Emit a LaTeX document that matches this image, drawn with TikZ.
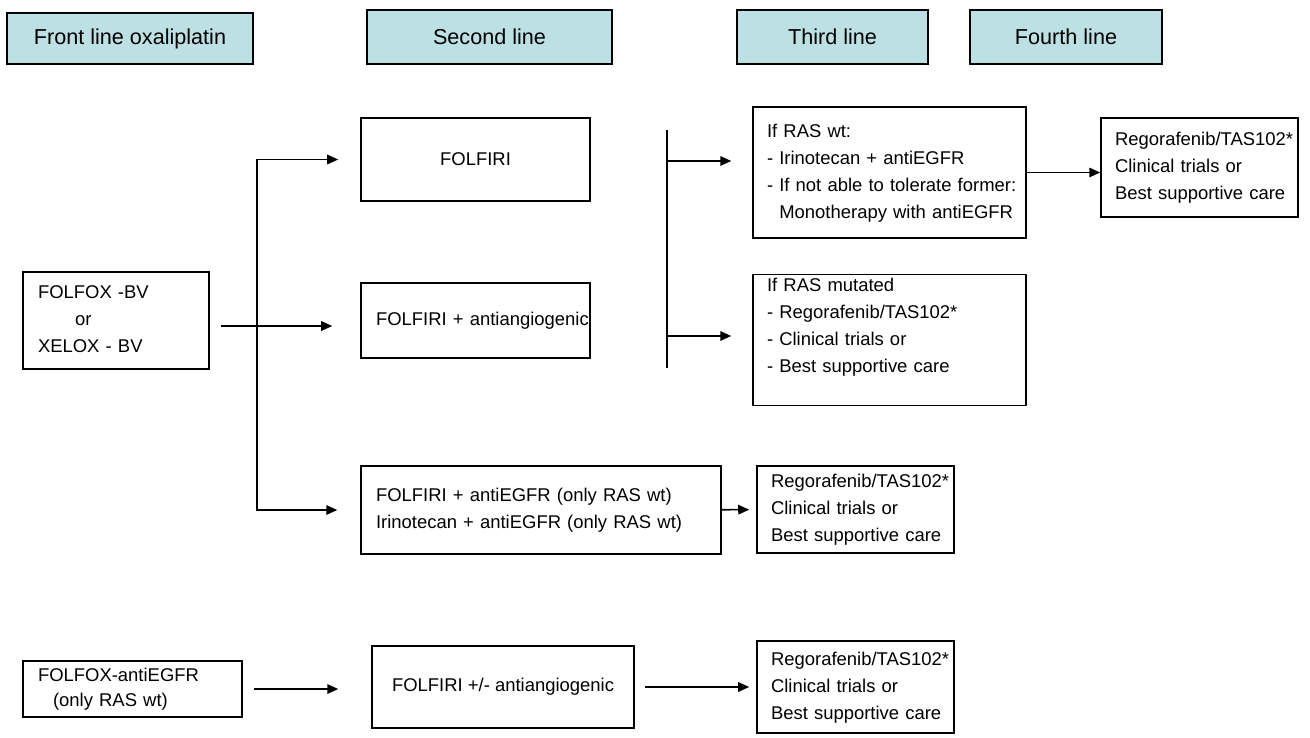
\documentclass[tikz,border=0pt]{standalone}
\usepackage{fontspec}
\setmainfont{Liberation Sans}
\usepackage{tikz}
\usetikzlibrary{
	positioning,
	arrows.meta
}

\definecolor{headblue}{RGB}{188,224,228}
% lines of a box, set flush left and never broken
\newcommand{\boxlines}[1]{\begin{tabular}[t]{@{}l@{}}#1\end{tabular}}

\tikzset{
	box/.style={draw, line width=0.9pt, inner sep=0pt,
		font=\fontsize{10.5}{15.4}\selectfont},
	headbox/.style={box, fill=headblue, minimum height=1.08cm,
		font=\fontsize{12.3}{14}\selectfont},
	leftbox/.style={box, align=left, inner xsep=0.28cm},
	arr/.style={-{Triangle[length=2.2mm,width=1.9mm]}, line width=0.9pt}
}

\begin{document}
\begin{tikzpicture}[x=0.02cm, y=-0.02cm]
	\useasboundingbox (0,0) rectangle (1310,737);

	% column headers
	\node[headbox, minimum width=4.92cm, minimum height=1.02cm] (front) at (130,38.5) {Front line oxaliplatin};
	\node[headbox, minimum width=4.90cm] (second) at (489.5,37) {Second line};
	\node[headbox, minimum width=3.82cm] (third) at (832.5,37) {Third line};
	\node[headbox, minimum width=3.84cm] (fourth) at (1066,37) {Fourth line};

	% first line
	\node[leftbox, inner xsep=0.3cm, text width=3.12cm, minimum height=1.94cm] (folfox) at (116,320.5)
		{\boxlines{FOLFOX -BV\\\hspace*{0.74cm}or\\XELOX - BV}};
	\node[leftbox, inner xsep=0.3cm, text width=3.78cm, minimum height=1.12cm,
		font=\fontsize{10.5}{14.2}\selectfont] (fxegfr) at (132.5,689)
		{\boxlines{FOLFOX-antiEGFR\\\hspace*{0.3cm}(only RAS wt)}};

	% second line
	\node[box, minimum width=4.58cm, minimum height=1.66cm] (folfiri) at (475.5,159.5) {FOLFIRI};
	\node[leftbox, inner xsep=0.3cm, text width=3.98cm, minimum height=1.5cm] (folfiriang) at (475.5,320.5)
		{\boxlines{FOLFIRI + antiangiogenic}};
	\node[leftbox, inner xsep=0.3cm, text width=6.6cm, minimum height=1.76cm] (antiegfr) at (541,510)
		{\boxlines{FOLFIRI + antiEGFR (only RAS wt)\\Irinotecan + antiEGFR (only RAS wt)}};
	\node[box, minimum width=5.24cm, minimum height=1.64cm] (fiang2) at (503,687) {FOLFIRI +/- antiangiogenic};

	% third line
	\node[leftbox, text width=4.9cm, minimum height=2.62cm] (raswt) at (889.5,172.5)
		{\boxlines{If RAS wt:\\- Irinotecan + antiEGFR\\- If not able to tolerate former:\\\phantom{- }Monotherapy with antiEGFR}};
	\node[leftbox, text width=4.9cm, text height=0.34cm, text depth=2.28cm, below=0.7cm of raswt] (rasmut)
		{\boxlines{If RAS mutated\\- Regorafenib/TAS102*\\- Clinical trials or\\- Best supportive care}};
	\node[leftbox, text width=3.38cm, minimum height=1.74cm] (reg2) at (855.5,509.5)
		{\boxlines{Regorafenib/TAS102*\\Clinical trials or\\Best supportive care}};
	\node[leftbox, text width=3.38cm, minimum height=1.84cm] (reg3) at (855.5,687)
		{\boxlines{Regorafenib/TAS102*\\Clinical trials or\\Best supportive care}};

	% fourth line
	\node[leftbox, text width=3.38cm, minimum height=1.98cm] (reg1) at (1199.5,167.5)
		{\boxlines{Regorafenib/TAS102*\\Clinical trials or\\Best supportive care}};

	% branching after first line
	\coordinate (split) at (257,326);
	\draw[arr, shorten <=0.22cm, shorten >=0.56cm] (folfox.east |- split) -- (split -| folfiriang.west);
	\draw[arr, shorten >=0.44cm] (split) |- (folfiri.west);
	\draw[arr, shorten >=0.46cm] (split) |- (antiegfr.west);
	\draw[arr, shorten >=0.14cm] (antiegfr) -- (reg2);

	% bar before third line
	\coordinate (bartop) at (667,130);
	\coordinate (barbot) at (667,368);
	\coordinate (wtin) at (667,161);
	\coordinate (mutin) at (667,336);
	\draw[line width=0.9pt] (bartop) -- (barbot);
	\draw[arr, shorten >=0.42cm] (wtin) -- (wtin -| raswt.west);
	\draw[arr, shorten >=0.42cm] (mutin) -- (mutin -| rasmut.west);
	\draw[arr] (raswt.east) -- (raswt.east -| reg1.west);

	% bottom row
	\draw[arr, shorten <=0.22cm, shorten >=0.66cm] (fxegfr.east) -- (fxegfr.east -| fiang2.west);
	\draw[arr, shorten <=0.2cm, shorten >=0.14cm] (fiang2) -- (reg3);
\end{tikzpicture}
\end{document}
